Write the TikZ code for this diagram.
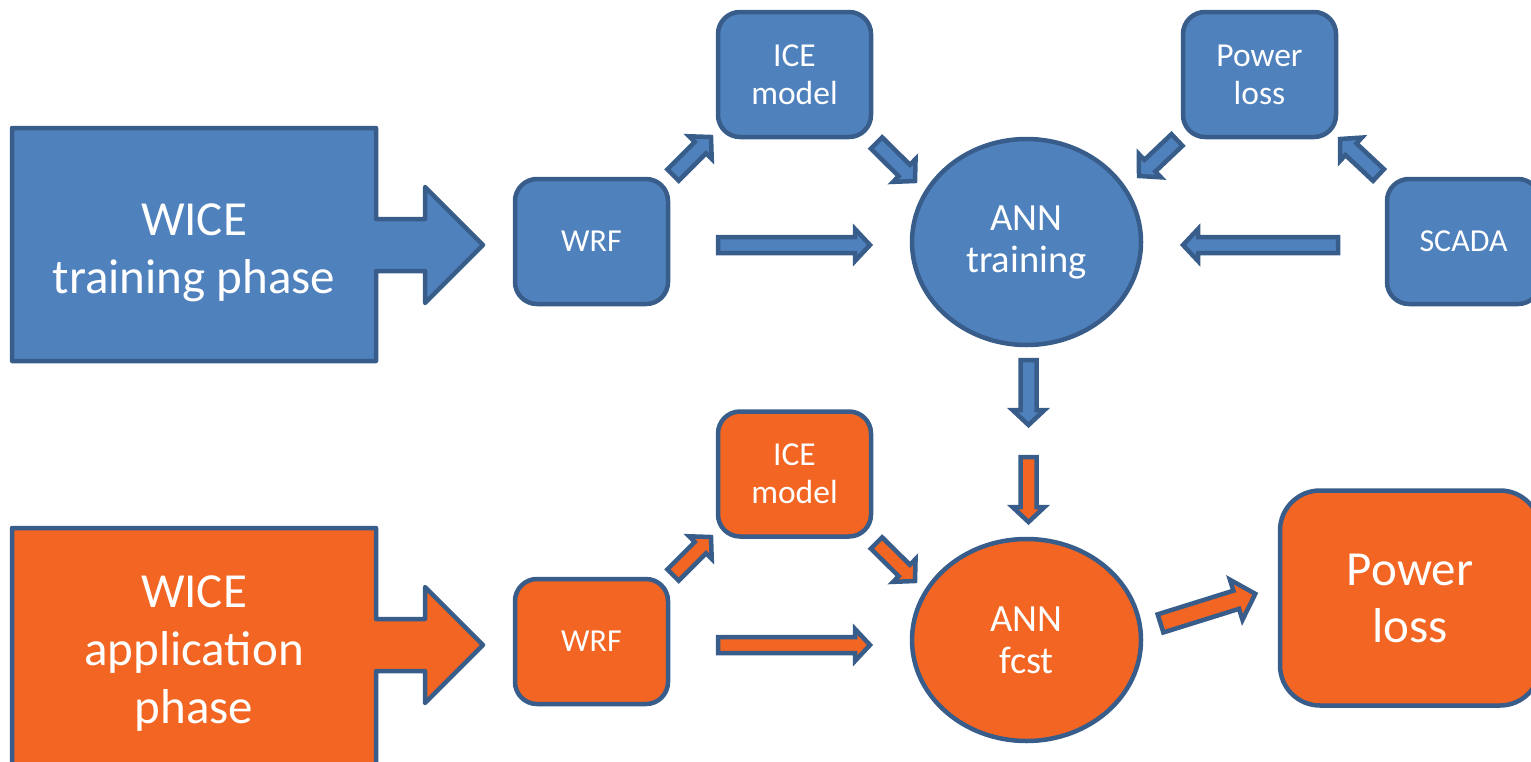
\documentclass[tikz,border=0pt]{standalone}
\usepackage{fontspec}
\setmainfont{Carlito}
\usetikzlibrary{shapes.geometric,calc}

\definecolor{boxblue}{HTML}{4F81BD}
\definecolor{boxorange}{HTML}{F26522}
\definecolor{edgeblue}{HTML}{385D8A}

% fat arrow from #2 (tail) to #3 (tip)
\newcommand\bshaft{8pt}
\newcommand\bhead{16pt}
\newcommand\blen{15pt}
\newcommand\blockarrow[3][]{%
  \coordinate (ba) at ($(#3)!\blen!(#2)$);
  \draw[blockarr,#1] ($(#2)!\bshaft!90:(#3)$) -- ($(ba)!\bshaft!90:(#3)$)
    -- ($(ba)!\bhead!90:(#3)$) -- (#3) -- ($(ba)!\bhead!-90:(#3)$)
    -- ($(ba)!\bshaft!-90:(#3)$) -- ($(#2)!\bshaft!-90:(#3)$) -- cycle;}

\begin{document}
\begin{tikzpicture}[x=1pt,y=-1pt,line width=4.5pt,
  box/.style={draw=edgeblue,rounded corners=22pt,minimum width=153pt,minimum height=125pt,
    inner sep=0pt,text=white,align=center,font=\fontsize{33.5}{38}\selectfont},
  small/.style={font=\fontsize{32}{38}\selectfont},
  blob/.style={ellipse,draw=edgeblue,minimum width=229pt,minimum height=206pt,
    inner sep=0pt,text=white,align=center,font=\fontsize{38.5}{42}\selectfont},
  blockarr/.style={draw=edgeblue,fill=boxblue},
  phase/.style={draw=edgeblue,line join=round},
  big/.style={text=white,align=center,font=\fontsize{49}{58}\selectfont}]
\useasboundingbox (0,0) rectangle (1531,761);
\clip (0,0) rectangle (1531,761);

% training phase
\draw[phase,fill=boxblue] (12,128) -- (376,128) -- (376,219) -- (425,219) -- (425,187)
  -- (483,245) -- (425,303) -- (425,271) -- (376,271) -- (376,361) -- (12,361) -- cycle;
\node[big] (wiceA) at (194,253) {WICE\\training phase};
\node[box,small,fill=boxblue] (wrfA) at (591.5,241.5) {WRF};
\node[box,fill=boxblue] (iceA) at (794.5,74.5) {ICE\\model};
\node[box,fill=boxblue] (plA) at (1259.5,74.5) {Power\\loss};
\node[box,small,fill=boxblue] (scada) at (1463.5,241.5) {SCADA};
\node[blob,fill=boxblue] (annA) at (1026.5,242) {ANN\\training};

% application phase
\draw[phase,fill=boxorange] (12,528) -- (376,528) -- (376,619) -- (425,619) -- (425,587)
  -- (483,645) -- (425,703) -- (425,671) -- (376,671) -- (376,790) -- (12,790) -- cycle;
\node[big] (wiceB) at (194,654) {WICE\\application\\phase};
\node[box,small,fill=boxorange] (wrfB) at (591.5,641.5) {WRF};
\node[box,fill=boxorange] (iceB) at (794.5,474) {ICE\\model};
\node[blob,fill=boxorange,minimum height=202pt] (annB) at (1026.5,640) {ANN\\fcst};
\node[draw=edgeblue,fill=boxorange,rounded corners=40pt,minimum width=260pt,minimum height=215pt,
  text=white,align=center,font=\fontsize{49}{57}\selectfont] (plB) at (1410,598) {Power\\loss};

% arrow ends
\coordinate (a1) at (718,245);     \coordinate (a2) at (870,245);
\coordinate (b1) at (673,175);     \coordinate (b2) at (711,137);
\coordinate (c1) at (876.5,143);   \coordinate (c2) at (915,181);
\coordinate (d1) at (1177,140);    \coordinate (d2) at (1139,176);
\coordinate (e1) at (1378.5,175);  \coordinate (e2) at (1340,139);
\coordinate (g1) at (1338,245);    \coordinate (g2) at (1183,245);
\coordinate (h1) at (1028.5,360);  \coordinate (h2) at (1028.5,425);
\coordinate (k1) at (1028.5,457);  \coordinate (k2) at (1028.5,522);
\coordinate (m1) at (718,645);     \coordinate (m2) at (870,645);
\coordinate (n1) at (673,575);     \coordinate (n2) at (711,537);
\coordinate (p1) at (876.5,543);   \coordinate (p2) at (915,581);
\coordinate (q1) at (1160.5,623.4); \coordinate (q2) at (1255.3,593.8);

\blockarrow{a1}{a2}
\blockarrow{b1}{b2}
\blockarrow{c1}{c2}
\blockarrow{d1}{d2}
\blockarrow{e1}{e2}
\blockarrow{g1}{g2}
\blockarrow{h1}{h2}
\blockarrow[fill=boxorange]{k1}{k2}
\blockarrow[fill=boxorange]{m1}{m2}
\blockarrow[fill=boxorange]{n1}{n2}
\blockarrow[fill=boxorange]{p1}{p2}
{\renewcommand\bshaft{9.5pt}\renewcommand\bhead{21pt}\renewcommand\blen{20pt}
\blockarrow[fill=boxorange]{q1}{q2}}
\end{tikzpicture}
\end{document}
